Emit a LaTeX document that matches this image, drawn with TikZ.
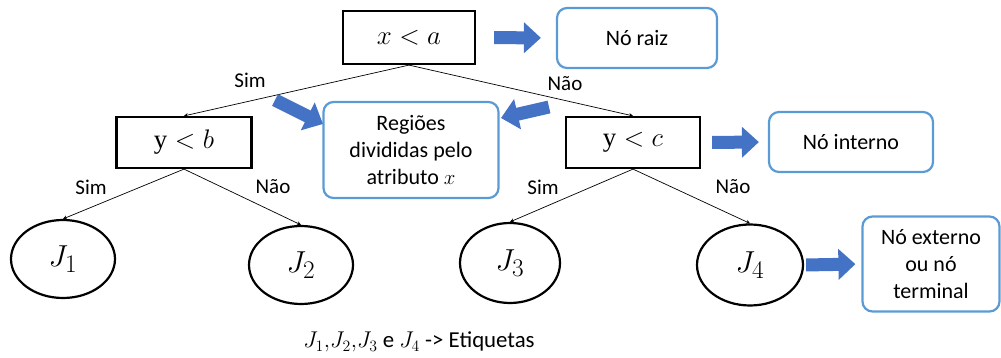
\documentclass[tikz,border=0pt]{standalone}
\usepackage{graphicx}
\usepackage{fontspec}
\setmainfont{Carlito}
\newfontfamily\serifm{Liberation Serif}
\usetikzlibrary{shapes.geometric,arrows.meta}
\definecolor{boxblue}{HTML}{5B9BD5}
\definecolor{arrblue}{HTML}{4472C4}
\tikzset{
  cond/.style={draw=black,line width=2.2pt,minimum width=#1,minimum height=51pt,inner sep=0pt,font=\fontsize{24.88}{30}\selectfont},
  leaf/.style={draw=black,line width=2.2pt,ellipse,inner sep=0pt,font=\fontsize{24.88}{30}\selectfont},
  note/.style={draw=boxblue,line width=2.2pt,rounded corners=10pt,inner sep=0pt,align=center,font=\fontsize{22}{27}\selectfont},
  lbl/.style={font=\fontsize{21}{24}\selectfont,inner sep=0pt},
  edge/.style={line width=0.7pt,-{Stealth[length=4pt,width=4pt]}},
  bigarrow/.style={draw=arrblue,line width=13pt,-{Triangle[length=17pt,width=30pt]},color=arrblue}
}
\newcommand{\cm}[1]{\scalebox{1.08}{#1}}
\newcommand{\lm}[1]{\scalebox{1.22}{#1}}
\begin{document}
\begin{tikzpicture}[x=1pt,y=-1pt]
\useasboundingbox (0,0) rectangle (1001,358);
% tree nodes
\node[cond=132pt,minimum height=53pt] (root) at (409,37.5) {\cm{$x < a$}};
\node[cond=135pt] (yb) at (184,142.5) {\cm{$\hbox{\serifm y} < b$}};
\node[cond=134pt] (yc) at (633,142.5) {\cm{$\hbox{\serifm y} < c$}};
\node[leaf,minimum width=104pt,minimum height=78pt] (J1) at (63,259) {\lm{$J_1$}};
\node[leaf,minimum width=104pt,minimum height=78pt] (J2) at (301,265) {\lm{$J_2$}};
\node[leaf,minimum width=100pt,minimum height=80pt] (J3) at (510,263) {\lm{$J_3$}};
\node[leaf,minimum width=106pt,minimum height=81pt] (J4) at (750,265) {\lm{$J_4$}};
% notes
\node[note,minimum width=160pt,minimum height=60pt] (raiz) at (637,38) {Nó raiz};
\node[note,minimum width=175pt,minimum height=96pt] (reg) at (411,150) {Regiões\\divididas pelo\\atributo $x$};
\node[note,minimum width=164pt,minimum height=60pt] (interno) at (851,142) {Nó interno};
\node[note,minimum width=137pt,minimum height=95pt] (ext) at (931,264) {Nó externo\\ou nó\\terminal};
% edges
\draw[edge] (root.south) -- (yb.north);
\draw[edge] (root.south) -- (yc.north);
\draw[edge] (yb.south) -- (J1.north);
\draw[edge] (yb.south) -- (J2.north);
\draw[edge] (yc.south) -- (J3.north);
\draw[edge] (yc.south) -- (J4.north);
% edge labels
\node[lbl] (s1) at (250,80) {Sim};
\node[lbl] (n1) at (565,84) {Não};
\node[lbl] (s2) at (91,187) {Sim};
\node[lbl] (n2) at (273,187) {Não};
\node[lbl] (s3) at (543,187) {Sim};
\node[lbl] (n3) at (733,187) {Não};
% big arrows
\draw[bigarrow,shorten <=18pt,shorten >=15pt] (root.east) -- (raiz.west);
\draw[bigarrow,shorten <=11pt,shorten >=9pt] (yc.east) -- (interno.west);
\draw[bigarrow,shorten <=2pt,shorten >=6pt] (J4.east) -- (ext.west);
\coordinate (la) at (275,100);
\coordinate (ra) at (549,107);
\draw[bigarrow] (la) -- (323,124);
\draw[bigarrow] (ra) -- (501,118);
% caption
\node[font=\fontsize{20.74}{26}\selectfont,inner sep=0pt] (cap) at (419,342) {\scalebox{1.1}{$J_1{,}J_2{,}J_3$ e $J_4$ -> Etiquetas}};
\end{tikzpicture}
\end{document}
